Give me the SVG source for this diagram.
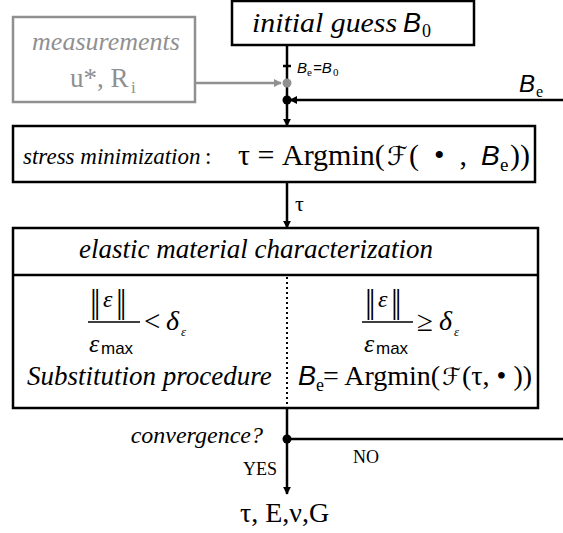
<svg xmlns="http://www.w3.org/2000/svg" width="563" height="533" viewBox="0 0 563 533">
<defs>
<style>
.box{fill:#fff;stroke:#000;stroke-width:2.5}
.gbox{fill:#fff;stroke:#909090;stroke-width:2.5}
.ln{stroke:#000;stroke-width:2.5;fill:none}
.gln{stroke:#909090;stroke-width:2.5;fill:none}
.s{font-family:"Liberation Serif","Times New Roman",serif}
.i{font-style:italic}
.a{font-family:"Liberation Sans",Arial,sans-serif;font-style:italic}
.u{font-family:"Liberation Sans",Arial,sans-serif}
.sc{font-family:"DejaVu Serif","DejaVu Sans",serif}
.g{fill:#909090}
</style>
<marker id="ah" viewBox="0 0 10 10" refX="9" refY="5" markerWidth="3.2" markerHeight="3.2" orient="auto"><path d="M0,0 L10,5 L0,10 z" fill="#000"/></marker>
<marker id="gah" viewBox="0 0 10 10" refX="9" refY="5" markerWidth="3.2" markerHeight="3.2" orient="auto"><path d="M0,0 L10,5 L0,10 z" fill="#909090"/></marker>
</defs>
<rect width="563" height="533" fill="#fff"/>
<g id="connectors">
<line class="ln" x1="287" y1="45" x2="287" y2="126" marker-end="url(#ah)"/>
<line class="ln" x1="283" y1="66" x2="291" y2="66"/>
<line class="gln" x1="195" y1="83" x2="281" y2="83" marker-end="url(#gah)"/>
<circle cx="287" cy="83" r="4.5" fill="#909090"/>
<line class="ln" x1="563" y1="100" x2="290" y2="100" marker-end="url(#ah)"/>
<circle cx="287" cy="100" r="4.5" fill="#000"/>
<line class="ln" x1="287" y1="182" x2="287" y2="228" marker-end="url(#ah)"/>
<line class="ln" x1="287" y1="408" x2="287" y2="494" marker-end="url(#ah)"/>
<line class="ln" x1="287" y1="439" x2="563" y2="439"/>
<circle cx="287" cy="439" r="4.5" fill="#000"/>
<text class="a" x="297" y="73" font-size="15">B</text>
<text class="s" x="307" y="76" font-size="11">e</text>
<text class="a" x="313" y="73" font-size="15">=B</text>
<text class="s" x="333" y="76" font-size="11">0</text>
<text class="a" x="519" y="92" font-size="24">B</text>
<text class="s" x="536" y="97" font-size="16">e</text>
<text class="s" x="295" y="211" font-size="22">τ</text>
<text class="s i" x="263" y="443" font-size="24" text-anchor="end">convergence?</text>
<text class="s" x="353" y="463" font-size="18">NO</text>
<text class="s" x="243" y="475" font-size="18">YES</text>
<text class="s" x="240" y="522" font-size="28">τ, E,ν,G</text>
</g>
<g id="initial">
<rect class="box" x="232" y="1" width="242" height="44"/>
<text class="s i" x="252" y="32" font-size="28" textLength="145" lengthAdjust="spacingAndGlyphs">initial guess</text>
<text class="a" x="403" y="32" font-size="27">B</text>
<text class="s" x="422" y="37" font-size="18">0</text>
</g>
<g id="measurements">
<rect class="gbox" x="13" y="17" width="182" height="85"/>
<text class="s i g" x="106" y="50" font-size="26" text-anchor="middle">measurements</text>
<text class="s g" x="70" y="87" font-size="27">u*, R</text>
<text class="s g" x="131" y="93" font-size="17">i</text>
</g>
<g id="stress">
<rect class="box" x="13" y="126" width="522" height="56"/>
<text class="s i" x="23" y="164" font-size="23">stress minimization</text>
<text class="s" x="205" y="164" font-size="23">:</text>
<text class="s" x="238" y="165" font-size="30">τ = Argmin(</text>
<text class="sc" x="387" y="165" font-size="26">ℱ</text>
<text class="s" x="409" y="165" font-size="30" xml:space="preserve">(  •  , </text>
<text class="a" x="481" y="165" font-size="28">B</text>
<text class="s" x="500" y="171" font-size="19">e</text>
<text class="s" x="510" y="165" font-size="30">))</text>
</g>
<g id="elastic">
<rect class="box" x="13" y="228" width="525" height="180"/>
<line class="ln" x1="13" y1="275" x2="538" y2="275"/>
<line x1="287" y1="277" x2="287" y2="406" stroke="#000" stroke-width="2" stroke-dasharray="2,3"/>
<text class="s i" x="256" y="258" font-size="27" text-anchor="middle">elastic material characterization</text>
<text class="s" x="90" y="313" font-size="34" letter-spacing="-3">||</text>
<text class="s i" x="103" y="307" font-size="24">ε</text>
<text class="s" x="116" y="313" font-size="34" letter-spacing="-3">||</text>
<line x1="88" y1="322" x2="140" y2="322" stroke="#000" stroke-width="1.5"/>
<text class="s i" x="89" y="352" font-size="26">ε</text>
<text class="u" x="101" y="354" font-size="17">max</text>
<text class="s" x="144" y="331" font-size="29">&lt;</text>
<text class="s i" x="166" y="330" font-size="28">δ</text>
<text class="s i" x="181" y="336" font-size="13">ε</text>
<text class="s" x="365" y="313" font-size="34" letter-spacing="-3">||</text>
<text class="s i" x="378" y="307" font-size="24">ε</text>
<text class="s" x="391" y="313" font-size="34" letter-spacing="-3">||</text>
<line x1="362" y1="322" x2="413" y2="322" stroke="#000" stroke-width="1.5"/>
<text class="s i" x="364" y="352" font-size="26">ε</text>
<text class="u" x="376" y="354" font-size="17">max</text>
<text class="s" x="417" y="331" font-size="29">≥</text>
<text class="s i" x="439" y="330" font-size="28">δ</text>
<text class="s i" x="454" y="336" font-size="13">ε</text>
<text class="s i" x="27" y="385" font-size="27">Substitution procedure</text>
<text class="a" x="298" y="385" font-size="27">B</text>
<text class="s" x="316" y="391" font-size="18">e</text>
<text class="s" x="323" y="385" font-size="28">= Argmin(</text>
<text class="sc" x="442" y="385" font-size="24">ℱ</text>
<text class="s" x="462" y="385" font-size="28">(τ, • ))</text>
</g>
</svg>
